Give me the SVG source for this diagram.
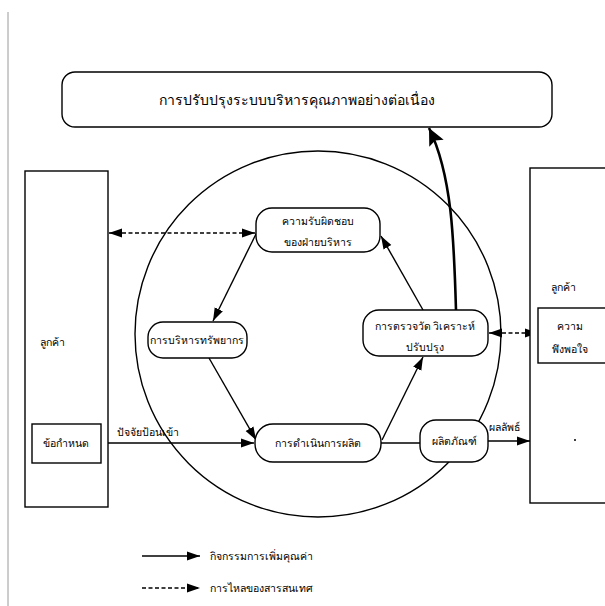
<svg xmlns="http://www.w3.org/2000/svg" width="605" height="606" viewBox="0 0 605 606">
  <defs>
    <marker id="arr" markerUnits="userSpaceOnUse" markerWidth="14" markerHeight="10" refX="13" refY="5" orient="auto-start-reverse">
      <path d="M0,0.5 L13,5 L0,9.5 z" fill="#000"/>
    </marker>
    <marker id="arrBig" markerUnits="userSpaceOnUse" markerWidth="18" markerHeight="16" refX="17" refY="8" orient="auto">
      <path d="M0,0 L17,8 L0,16 L3,8 z" fill="#000"/>
    </marker>
  </defs>
  <style>
    .box{fill:#fff;stroke:#000;stroke-width:1.4}
    .t{font-family:'Noto Sans','DejaVu Sans',sans-serif;font-size:10.5px;fill:#000;text-anchor:middle}
    .ts{font-family:'Noto Sans','DejaVu Sans',sans-serif;font-size:10.5px;fill:#000}
    .big{font-size:14px}
    .ln{fill:none;stroke:#000;stroke-width:1.4}
    .dash{stroke-dasharray:4 2.5}
  </style>

  <!-- page margin rule -->
  <line x1="8" y1="12" x2="8" y2="606" stroke="#9a9a9a" stroke-width="1"/>

  <!-- organisation boundary -->
  <circle cx="318" cy="334" r="183" class="ln"/>

  <g id="connectors">
    <line x1="109" y1="233" x2="255" y2="233" class="ln dash" marker-start="url(#arr)" marker-end="url(#arr)"/>
    <line x1="257" y1="232" x2="213" y2="321" class="ln" marker-end="url(#arr)"/>
    <line x1="209" y1="358" x2="256" y2="440" class="ln" marker-end="url(#arr)"/>
    <line x1="101" y1="443" x2="254" y2="443" class="ln" marker-end="url(#arr)"/>
    <line x1="381" y1="443" x2="420" y2="443" class="ln"/>
    <line x1="382" y1="440" x2="423" y2="357" class="ln" marker-end="url(#arr)"/>
    <line x1="423" y1="310" x2="381" y2="236" class="ln" marker-end="url(#arr)"/>
    <line x1="489" y1="333" x2="538" y2="333" class="ln dash" marker-start="url(#arr)" marker-end="url(#arr)"/>
    <line x1="488" y1="441" x2="530" y2="441" class="ln" marker-end="url(#arr)"/>
    <path d="M456,310 C454,240 452,175 429,128" fill="none" stroke="#000" stroke-width="2.6" marker-end="url(#arrBig)"/>
    <text class="ts" x="117" y="436">ปัจจัยป้อนเข้า</text>
    <text class="ts" x="489" y="431">ผลลัพธ์</text>
  </g>

  <g id="improve">
    <rect x="62" y="72" width="490" height="55" rx="13" class="box"/>
    <text class="t big" x="297" y="105">การปรับปรุงระบบบริหารคุณภาพอย่างต่อเนื่อง</text>
  </g>

  <g id="customer-in">
    <rect x="25" y="171" width="83" height="336" class="box"/>
    <text class="t" x="52" y="346">ลูกค้า</text>
  </g>
  <g id="requirement">
    <rect x="32" y="424" width="69" height="39" class="box"/>
    <text class="t" x="66" y="447">ข้อกำหนด</text>
  </g>

  <g id="customer-out">
    <rect x="530" y="168" width="90" height="335" class="box"/>
    <text class="t" x="563" y="291">ลูกค้า</text>
    <circle cx="575" cy="440" r="1" fill="#000"/>
  </g>
  <g id="satisfaction">
    <rect x="538" y="308" width="80" height="55" class="box"/>
    <text class="t" x="570" y="330">ความ</text>
    <text class="t" x="570" y="353">พึงพอใจ</text>
  </g>

  <g id="management">
    <rect x="256" y="208" width="124" height="44" rx="16" class="box"/>
    <text class="t" x="318" y="225">ความรับผิดชอบ</text>
    <text class="t" x="318" y="246">ของฝ่ายบริหาร</text>
  </g>
  <g id="resources">
    <rect x="148" y="322" width="99" height="36" rx="15" class="box"/>
    <text class="t" x="197" y="344">การบริหารทรัพยากร</text>
  </g>
  <g id="measure">
    <rect x="363" y="310" width="125" height="46" rx="16" class="box"/>
    <text class="t" x="425" y="330">การตรวจวัด วิเคราะห์</text>
    <text class="t" x="425" y="351">ปรับปรุง</text>
  </g>
  <g id="production">
    <rect x="255" y="424" width="126" height="38" rx="18" class="box"/>
    <text class="t" x="318" y="447">การดำเนินการผลิต</text>
  </g>
  <g id="product">
    <rect x="420" y="420" width="68" height="42" rx="16" class="box"/>
    <text class="t" x="454" y="445">ผลิตภัณฑ์</text>
  </g>

  <g id="legend">
    <line x1="142" y1="556" x2="200" y2="556" class="ln" marker-end="url(#arr)"/>
    <text class="ts" x="210" y="560">กิจกรรมการเพิ่มคุณค่า</text>
    <line x1="142" y1="588" x2="200" y2="588" class="ln dash" marker-end="url(#arr)"/>
    <text class="ts" x="210" y="592">การไหลของสารสนเทศ</text>
  </g>
</svg>
